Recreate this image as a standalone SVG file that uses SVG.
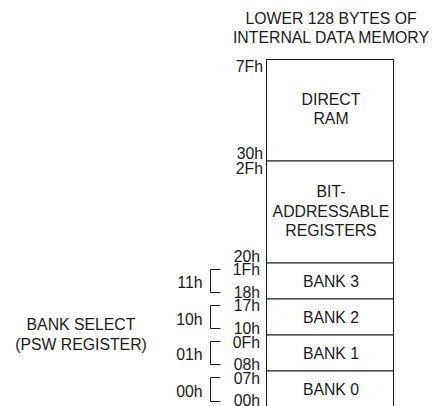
<svg xmlns="http://www.w3.org/2000/svg" width="435" height="406" viewBox="0 0 435 406">
<style>
text{font-family:"Liberation Sans",Arial,sans-serif;font-size:15.8px;fill:#1a1a1a}
.c{text-anchor:middle}
.r{text-anchor:end}
.box{fill:#fff;stroke:#1a1a1a;stroke-width:1}
.br{fill:none;stroke:#1a1a1a;stroke-width:1}
</style>
<rect width="435" height="406" fill="#fff"/>
<g id="title">
<text class="c" x="331" y="24">LOWER 128 BYTES OF</text>
<text class="c" x="331" y="42.5">INTERNAL DATA MEMORY</text>
</g>
<g id="direct-ram">
<rect class="box" x="266.5" y="59.5" width="127" height="101.5"/>
<text class="c" x="331" y="104.5">DIRECT</text>
<text class="c" x="331" y="123.5">RAM</text>
<text class="r" x="263" y="71.5">7Fh</text>
<text class="r" x="263" y="158.5">30h</text>
</g>
<g id="bit-addressable">
<rect class="box" x="266.5" y="161" width="127" height="102"/>
<text class="c" x="331" y="196.5">BIT-</text>
<text class="c" x="331" y="216.5">ADDRESSABLE</text>
<text class="c" x="331" y="236">REGISTERS</text>
<text class="r" x="263" y="173.5">2Fh</text>
<text class="r" x="260" y="261.5">20h</text>
</g>
<g id="bank3">
<rect class="box" x="266.5" y="263" width="127" height="36"/>
<text class="c" x="331" y="286.5">BANK 3</text>
<text class="r" x="260" y="275">1Fh</text>
<text class="r" x="260" y="297.5">18h</text>
</g>
<g id="bank2">
<rect class="box" x="266.5" y="299" width="127" height="36"/>
<text class="c" x="331" y="322.5">BANK 2</text>
<text class="r" x="260" y="311">17h</text>
<text class="r" x="260" y="333.5">10h</text>
</g>
<g id="bank1">
<rect class="box" x="266.5" y="335" width="127" height="36"/>
<text class="c" x="331" y="358.5">BANK 1</text>
<text class="r" x="260" y="347.5">0Fh</text>
<text class="r" x="260" y="369.5">08h</text>
</g>
<g id="bank0">
<rect class="box" x="266.5" y="371" width="127" height="40"/>
<text class="c" x="331" y="394.5">BANK 0</text>
<text class="r" x="260" y="383.5">07h</text>
<text class="r" x="260" y="405.5">00h</text>
</g>
<g id="bank-select">
<text class="c" x="81" y="330">BANK SELECT</text>
<text class="c" x="81" y="350">(PSW REGISTER)</text>
</g>
<g id="psw-values">
<text class="r" x="202.5" y="288">11h</text>
<text class="r" x="202.5" y="324.5">10h</text>
<text class="r" x="202.5" y="360">01h</text>
<text class="r" x="202.5" y="396.5">00h</text>
</g>
<g id="connectors">
<path class="br" d="M220.5 269.5H210.5V292.5H220.5"/>
<path class="br" d="M220.5 305.5H210.5V328.5H220.5"/>
<path class="br" d="M220.5 341.5H210.5V364.5H220.5"/>
<path class="br" d="M220.5 377.5H210.5V401.5H220.5"/>
</g>
</svg>
